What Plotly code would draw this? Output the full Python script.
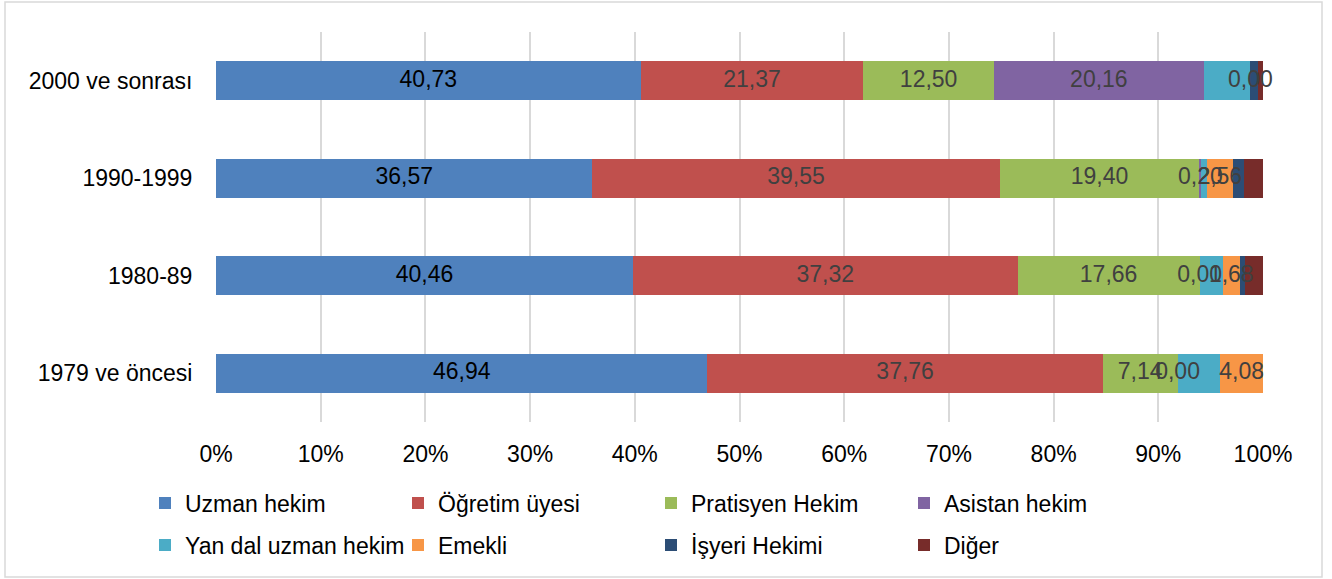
import numpy as np
import plotly.graph_objects as go

categories = ["2000 ve sonrası", "1990-1999", "1980-89", "1979 ve öncesi"]
series_names = ["Uzman hekim", "Öğretim üyesi", "Pratisyen Hekim", "Asistan hekim",
                "Yan dal uzman hekim", "Emekli", "İşyeri Hekimi", "Diğer"]
uzman = [40.73, 36.57, 40.46, 46.94]
ogretim = [21.37, 39.55, 37.32, 37.76]
pratisyen = [12.50, 19.40, 17.66, 7.14]
asistan = [20.16, 0.20, 0.00, 0.00]
yandal = [4.45, 0.50, 2.23, 4.08]
emekli = [0.00, 2.56, 1.68, 4.08]
isyeri = [0.77, 1.07, 0.49, 0.00]
diger = [0.44, 1.85, 1.75, 0.00]
colors = ["#4F81BD", "#C0504D", "#9BBB59", "#8064A2", "#4BACC6", "#F79646", "#2C4D75", "#772C2A"]
labelled = [True, True, True, True, False, True, False, False]
label_colors = ["#000000", "#404040", "#404040", "#404040", "#404040", "#404040", "#404040", "#404040"]
x_ticks = list(range(0, 101, 10))

values = np.array([uzman, ogretim, pratisyen, asistan, yandal, emekli, isyeri, diger])
totals = values.sum(axis=0)
pct = values / totals * 100
cum = np.cumsum(pct, axis=0)
mid = cum - pct / 2

FONT = "Arial, Liberation Sans, sans-serif"
FS = 23

fig = go.Figure()
for i, name in enumerate(series_names):
    fig.add_trace(go.Bar(
        y=categories, x=pct[i], name=name, orientation="h",
        marker=dict(color=colors[i], line=dict(width=0)),
        legend="legend" if i < 4 else "legend2",
        customdata=values[i], hovertemplate="%{y}: %{customdata:.2f}<extra>" + name + "</extra>",
    ))
for i, name in enumerate(series_names):
    if not labelled[i]:
        continue
    fig.add_trace(go.Scatter(
        y=categories, x=mid[i], mode="text",
        text=[f"{v:.2f}".replace(".", ",") for v in values[i]],
        textfont=dict(family=FONT, size=FS, color=label_colors[i]),
        textposition="middle center", showlegend=False, hoverinfo="skip",
        cliponaxis=False,
    ))

L, R, T, B = 216, 69, 32, 157
W, H = 1332, 579
pw, ph = W - L - R, H - T - B

def px_x(p):
    return (p - L) / pw

def px_y(p):
    return (H - B - p) / ph

fig.update_layout(
    width=W, height=H, barmode="stack", bargap=0.6,
    margin=dict(l=L, r=R, t=T, b=B, autoexpand=False),
    paper_bgcolor="white", plot_bgcolor="white",
    font=dict(family=FONT, size=FS, color="#000000"),
    xaxis=dict(range=[0, 100], tickvals=x_ticks, ticktext=[f"{t}%" for t in x_ticks],
               showgrid=True, gridcolor="#D9D9D9", gridwidth=2, zeroline=False,
               showline=False, ticks="outside", ticklen=11, tickcolor="rgba(0,0,0,0)",
               tickfont=dict(family=FONT, size=FS, color="#000000"), fixedrange=True,
               automargin=False),
    yaxis=dict(autorange="reversed", showgrid=False, zeroline=False, showline=False,
               ticks="outside", ticklen=18, tickcolor="rgba(0,0,0,0)",
               tickfont=dict(family=FONT, size=FS, color="#000000"), fixedrange=True,
               automargin=False),
    legend=dict(orientation="h", x=px_x(145), xanchor="left", y=px_y(503), yanchor="middle",
                entrywidth=208, entrywidthmode="pixels", font=dict(family=FONT, size=FS),
                bgcolor="rgba(0,0,0,0)", traceorder="normal"),
    legend2=dict(orientation="h", x=px_x(145), xanchor="left", y=px_y(545), yanchor="middle",
                 entrywidth=208, entrywidthmode="pixels", font=dict(family=FONT, size=FS),
                 bgcolor="rgba(0,0,0,0)", traceorder="normal"),
    shapes=[dict(type="rect", xref="paper", yref="paper",
                 x0=px_x(5), x1=px_x(1322), y0=px_y(577), y1=px_y(2),
                 line=dict(color="#D9D9D9", width=1.5), fillcolor="rgba(0,0,0,0)", layer="below")],
    showlegend=True,
)

fig.write_html("out.html", config={"displayModeBar": False},
               post_script="document.body.style.margin='0';document.body.style.overflow='hidden';")
